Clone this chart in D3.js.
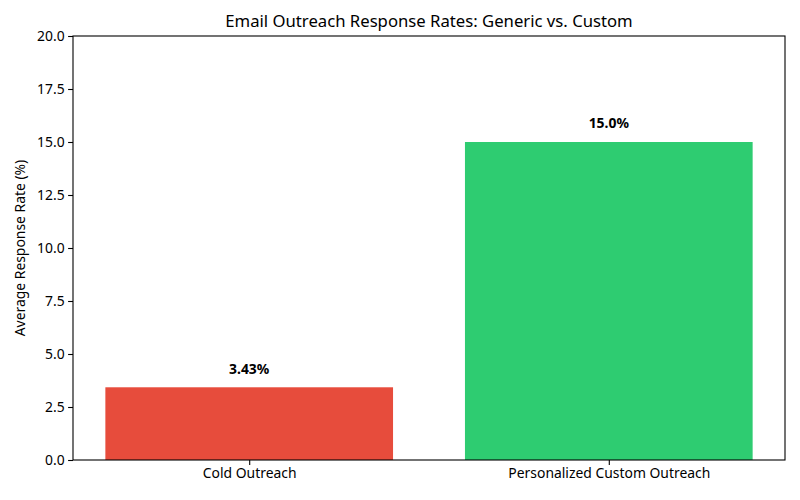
<!DOCTYPE html>
<html><head><meta charset="utf-8">
<script src="https://cdn.jsdelivr.net/npm/d3@7"></script>
<style>body{margin:0;background:#fff}svg{display:block;font-family:"Noto Sans",sans-serif}</style>
</head><body><svg id="c" width="800" height="500"></svg>
<script>
const categories = ["Cold Outreach", "Personalized Custom Outreach"];
const values = [3.43, 15.0];
const valueLabels = ["3.43%", "15.0%"];
const colors = ["#e74c3c", "#2ecc71"];
const yTicks = [0, 2.5, 5, 7.5, 10, 12.5, 15, 17.5, 20];

const svg = d3.select("#c");
const m = {l: 73, r: 15, t: 36, b: 40};
const W = 800, H = 500;
const x = d3.scaleLinear().domain([-0.49, 1.49]).range([m.l, W - m.r]);
const y = d3.scaleLinear().domain([0, 20]).range([H - m.b, m.t]);
const bw = x(0.8) - x(0);

svg.append("g").selectAll("rect").data(values).join("rect")
  .attr("x", (d, i) => x(i - 0.4)).attr("width", bw)
  .attr("y", d => y(d)).attr("height", d => y(0) - y(d))
  .attr("fill", (d, i) => colors[i]);

svg.append("g").selectAll("text").data(values).join("text")
  .attr("x", (d, i) => x(i)).attr("y", d => y(d + 0.5) - 3)
  .attr("text-anchor", "middle").attr("font-weight", "bold")
  .attr("font-size", 13.9).text((d, i) => valueLabels[i]);

const yAxis = svg.append("g").attr("transform", `translate(${m.l},0)`)
  .call(d3.axisLeft(y).tickValues(yTicks).tickFormat(d3.format(".1f")).tickSize(4.9).tickPadding(3.5));
const xAxis = svg.append("g").attr("transform", `translate(0,${H - m.b})`)
  .call(d3.axisBottom(x).tickValues([0, 1]).tickFormat(i => categories[i]).tickSize(4.9).tickPadding(3.5));
[yAxis, xAxis].forEach(a => {
  a.select(".domain").remove();
  a.selectAll("line").attr("stroke", "#000").attr("stroke-width", 1.1);
  a.selectAll("text").attr("font-size", 13.9).attr("fill", "#000").attr("font-family", "Noto Sans");
});

svg.append("rect").attr("x", m.l).attr("y", m.t).attr("width", W - m.r - m.l).attr("height", H - m.b - m.t)
  .attr("fill", "none").attr("stroke", "#000").attr("stroke-width", 1.1);

svg.append("text").attr("x", (m.l + W - m.r) / 2).attr("y", m.t - 9)
  .attr("text-anchor", "middle").attr("font-size", 16.7).text("Email Outreach Response Rates: Generic vs. Custom");

svg.append("text").attr("transform", `translate(25,${(m.t + H - m.b) / 2}) rotate(-90)`)
  .attr("text-anchor", "middle").attr("font-size", 13.9).text("Average Response Rate (%)");
</script></body></html>
